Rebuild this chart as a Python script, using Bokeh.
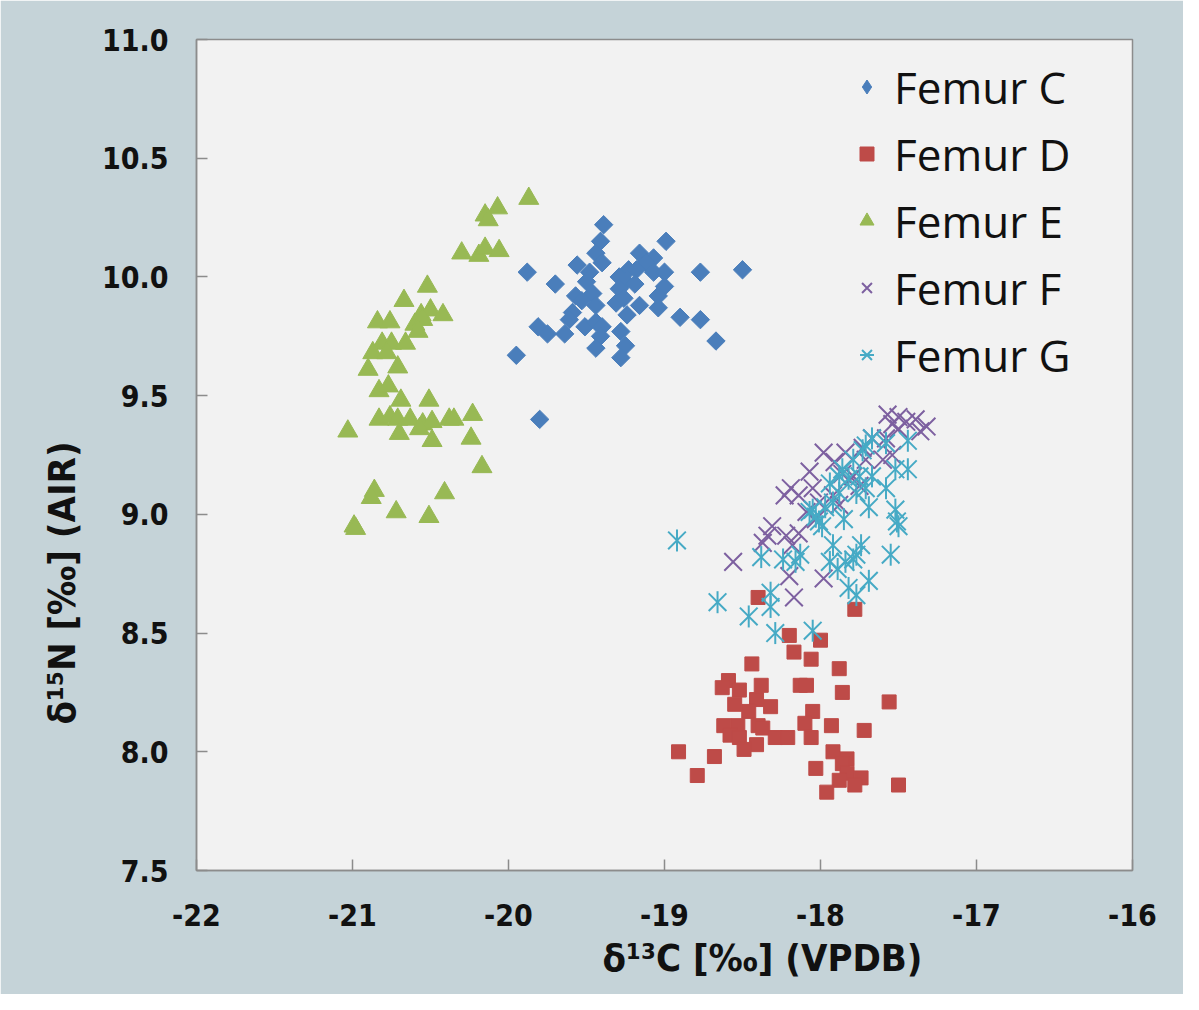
import numpy as np
from bokeh.plotting import figure
from bokeh.models import Legend, LegendItem, Title, FixedTicker, Range1d, NumeralTickFormatter
from bokeh.embed import file_html
from bokeh.resources import INLINE

# ---------------- data ----------------
femur_c_x = [-19.39, -19.41, -19.44, -19.40, -18.99, -19.88, -19.56, -19.70, -19.48, -19.50,
             -19.16, -19.07, -19.12, -19.23, -19.18, -19.29, -19.07, -19.00, -19.25, -19.19,
             -19.00, -19.29, -18.77, -18.50, -19.57, -19.46, -19.53, -19.44, -19.31, -19.26,
             -19.16, -19.04, -19.04, -19.59, -19.61, -19.24, -19.51, -19.44, -19.40, -19.81,
             -19.75, -19.64, -19.41, -19.28, -18.90, -18.77, -19.44, -19.25, -19.28, -18.67,
             -19.95, -19.80]
femur_c_y = [10.22, 10.15, 10.10, 10.06, 10.15, 10.02, 10.05, 9.97, 10.02, 9.98,
             10.10, 10.08, 10.06, 10.03, 10.03, 10.00, 10.02, 10.02, 9.98, 9.97,
             9.96, 9.95, 10.02, 10.03, 9.92, 9.93, 9.90, 9.88, 9.89, 9.91,
             9.88, 9.92, 9.87, 9.85, 9.82, 9.84, 9.79, 9.81, 9.79, 9.79,
             9.76, 9.76, 9.75, 9.77, 9.83, 9.82, 9.70, 9.71, 9.66, 9.73,
             9.67, 9.40]

femur_d_x = [-18.40, -17.78, -18.20, -18.00, -18.17, -18.06, -18.44, -17.88, -18.59, -18.63,
             -18.38, -18.52, -18.13, -18.09, -17.86, -18.55, -18.41, -18.32, -18.46, -18.05,
             -17.56, -18.62, -18.53, -18.40, -18.37, -18.58, -18.52, -18.10, -17.93, -17.72,
             -18.29, -18.21, -18.06, -18.41, -18.49, -18.91, -18.68, -17.92, -17.83, -17.86,
             -18.79, -18.03, -17.83, -17.74, -17.88, -17.78, -17.50, -17.96]
femur_d_y = [8.65, 8.60, 8.49, 8.47, 8.42, 8.39, 8.37, 8.35, 8.30, 8.27,
             8.28, 8.26, 8.28, 8.28, 8.25, 8.20, 8.22, 8.19, 8.17, 8.17,
             8.21, 8.11, 8.11, 8.11, 8.10, 8.07, 8.06, 8.12, 8.11, 8.09,
             8.06, 8.06, 8.06, 8.03, 8.01, 8.00, 7.98, 8.00, 7.97, 7.95,
             7.90, 7.93, 7.91, 7.89, 7.88, 7.86, 7.86, 7.83]

femur_e_x = [-19.87, -20.07, -20.15, -20.13, -20.30, -20.19, -20.15, -20.06, -20.52, -20.67,
             -20.84, -20.76, -20.56, -20.50, -20.42, -20.60, -20.55, -20.58, -20.81, -20.75,
             -20.66, -20.87, -20.78, -20.90, -20.71, -20.83, -20.77, -20.69, -20.51, -20.83,
             -20.76, -20.71, -20.63, -20.55, -20.49, -20.38, -20.35, -20.23, -21.03, -20.70,
             -20.57, -20.49, -20.24, -20.17, -20.86, -20.88, -20.41, -20.72, -20.51, -20.99,
             -20.98]
femur_e_y = [10.33, 10.29, 10.26, 10.24, 10.10, 10.09, 10.12, 10.11, 9.96, 9.90,
             9.81, 9.81, 9.84, 9.86, 9.84, 9.80, 9.82, 9.77, 9.72, 9.72,
             9.72, 9.68, 9.68, 9.61, 9.62, 9.52, 9.54, 9.48, 9.48, 9.40,
             9.41, 9.40, 9.40, 9.38, 9.39, 9.40, 9.40, 9.42, 9.35, 9.34,
             9.36, 9.31, 9.32, 9.20, 9.10, 9.07, 9.09, 9.01, 8.99, 8.95,
             8.94]

femur_f_x = [-17.57, -17.50, -17.54, -17.45, -17.39, -17.32, -17.36, -17.50, -17.58, -17.98,
             -17.84, -17.91, -18.07, -18.19, -18.23, -18.14, -17.71, -17.60, -17.54, -17.79,
             -17.75, -18.01, -17.92, -17.88, -18.09, -18.03, -18.14, -18.31, -18.34, -18.37,
             -18.22, -18.18, -18.56, -18.20, -17.98, -18.17, -17.86, -17.67, -17.73, -18.05]
femur_f_y = [9.42, 9.41, 9.38, 9.39, 9.40, 9.37, 9.35, 9.36, 9.32, 9.26,
             9.26, 9.22, 9.18, 9.11, 9.08, 9.08, 9.23, 9.23, 9.25, 9.16,
             9.12, 9.05, 9.08, 9.04, 9.01, 8.98, 8.92, 8.95, 8.91, 8.88,
             8.91, 8.87, 8.80, 8.74, 8.73, 8.65, 9.17, 9.32, 9.28, 9.11]

femur_g_x = [-18.92, -18.66, -18.46, -18.29, -18.05, -18.32, -18.32, -18.38, -18.24, -18.16,
             -18.13, -17.92, -17.94, -17.89, -17.84, -17.79, -17.74, -17.77, -17.69, -17.82,
             -17.77, -17.55, -17.51, -17.52, -17.50, -17.69, -17.85, -17.99, -18.03, -18.01,
             -17.97, -18.07, -18.05, -17.92, -17.88, -17.94, -17.86, -17.79, -17.73, -17.67,
             -17.71, -17.58, -17.44, -17.75, -17.67, -17.58, -17.44, -17.52, -17.82, -17.71,
             -17.88, -17.77]
femur_g_y = [8.89, 8.63, 8.57, 8.50, 8.51, 8.61, 8.67, 8.82, 8.81, 8.80,
             8.83, 8.87, 8.80, 8.77, 8.80, 8.81, 8.87, 8.83, 8.72, 8.69,
             8.66, 8.83, 8.97, 9.02, 8.95, 9.03, 8.98, 8.95, 8.99, 8.97,
             9.03, 9.01, 9.02, 9.05, 9.09, 9.13, 9.19, 9.23, 9.27, 9.32,
             9.29, 9.30, 9.31, 9.16, 9.16, 9.11, 9.19, 9.19, 9.15, 9.11,
             9.16, 9.09]

x_ticks = [-22, -21, -20, -19, -18, -17, -16]
y_ticks = [7.5, 8.0, 8.5, 9.0, 9.5, 10.0, 10.5, 11.0]
series_labels = ["Femur C", "Femur D", "Femur E", "Femur F", "Femur G"]
x_title = "δ¹³C [‰] (VPDB)"
y_title = "δ¹⁵N [‰] (AIR)"

# ---------------- style ----------------
PAGE_BG = "#c5d3d8"
PLOT_BG = "#f2f2f2"
AXIS_C = "#8c8c8c"
TICK_FONT = "DejaVu Sans Condensed, Roboto, sans-serif"
COL_C, COL_D, COL_E, COL_F, COL_G = "#4a7ebb", "#be4b48", "#98b954", "#7d60a0", "#46aac5"

p = figure(width=1183, height=994,
           x_range=Range1d(-22, -16), y_range=Range1d(7.5, 11.0),
           output_backend="svg", toolbar_location=None,
           min_border_left=196, min_border_right=51,
           min_border_top=39, min_border_bottom=124,
           background_fill_color=PLOT_BG, border_fill_color=PAGE_BG)

p.outline_line_color = AXIS_C
p.outline_line_width = 1.5
p.xgrid.visible = False
p.ygrid.visible = False

for ax in (p.xaxis[0], p.yaxis[0]):
    ax.axis_line_color = AXIS_C
    ax.axis_line_width = 1.5
    ax.major_tick_line_color = AXIS_C
    ax.major_tick_line_width = 1.5
    ax.major_tick_in = 11
    ax.major_tick_out = 0
    ax.minor_tick_line_color = None
    ax.major_label_text_font = TICK_FONT
    ax.major_label_text_font_style = "bold"
    ax.major_label_text_font_size = "30px"
    ax.major_label_text_color = "#111111"

p.xaxis[0].ticker = FixedTicker(ticks=x_ticks)
p.xaxis[0].major_label_overrides = {t: str(t) for t in x_ticks}
p.xaxis[0].major_label_standoff = 33
p.yaxis[0].ticker = FixedTicker(ticks=y_ticks)
p.yaxis[0].formatter = NumeralTickFormatter(format="0.0")
p.yaxis[0].major_label_standoff = 28

# ---------------- series ----------------
r_c = p.scatter(femur_c_x, femur_c_y, marker="square", angle=np.pi / 4, size=13,
                fill_color=COL_C, line_color=COL_C)
r_d = p.scatter(femur_d_x, femur_d_y, marker="square", size=14,
                fill_color=COL_D, line_color=COL_D)
r_e = p.scatter(femur_e_x, femur_e_y, marker="triangle", size=20,
                fill_color=COL_E, line_color=COL_E)
r_f = p.scatter(femur_f_x, femur_f_y, marker="x", size=25, line_width=2,
                line_color=COL_F)
r_g1 = p.scatter(femur_g_x, femur_g_y, marker="x", size=25, line_width=2,
                 line_color=COL_G)
r_g2 = p.scatter(femur_g_x, femur_g_y, marker="dash", angle=np.pi / 2, size=22,
                 line_width=2, line_color=COL_G)

# hidden twin of Femur C, used only for its legend glyph (legend glyphs are unrotated)
r_c_leg = p.scatter(femur_c_x, femur_c_y, marker="diamond", size=13,
                    fill_color=COL_C, line_color=COL_C, visible=False)

legend = Legend(items=[
    LegendItem(label=series_labels[0], renderers=[r_c_leg]),
    LegendItem(label=series_labels[1], renderers=[r_d]),
    LegendItem(label=series_labels[2], renderers=[r_e]),
    LegendItem(label=series_labels[3], renderers=[r_f]),
    LegendItem(label=series_labels[4], renderers=[r_g1, r_g2]),
])
legend.location = (653, 482)
legend.border_line_color = None
legend.background_fill_alpha = 0
legend.inactive_fill_alpha = 0
legend.padding = 0
legend.margin = 0
legend.spacing = 0
legend.glyph_width = 35
legend.glyph_height = 67
legend.label_height = 67
legend.label_standoff = 10
legend.label_text_font = "Open Sans"
legend.label_text_font_size = "44px"
legend.label_text_color = "#111111"
p.add_layout(legend)

# ---------------- axis titles ----------------
xt = Title(text=x_title, align="left", offset=406, standoff=11,
           text_font=TICK_FONT, text_font_style="bold", text_font_size="38px",
           text_color="#111111")
yt = Title(text=y_title, align="left", offset=146, standoff=30,
           text_font=TICK_FONT, text_font_style="bold", text_font_size="38px",
           text_color="#111111")
p.add_layout(xt, "below")
p.add_layout(yt, "left")

open("out.html", "w").write(file_html(p, INLINE))
